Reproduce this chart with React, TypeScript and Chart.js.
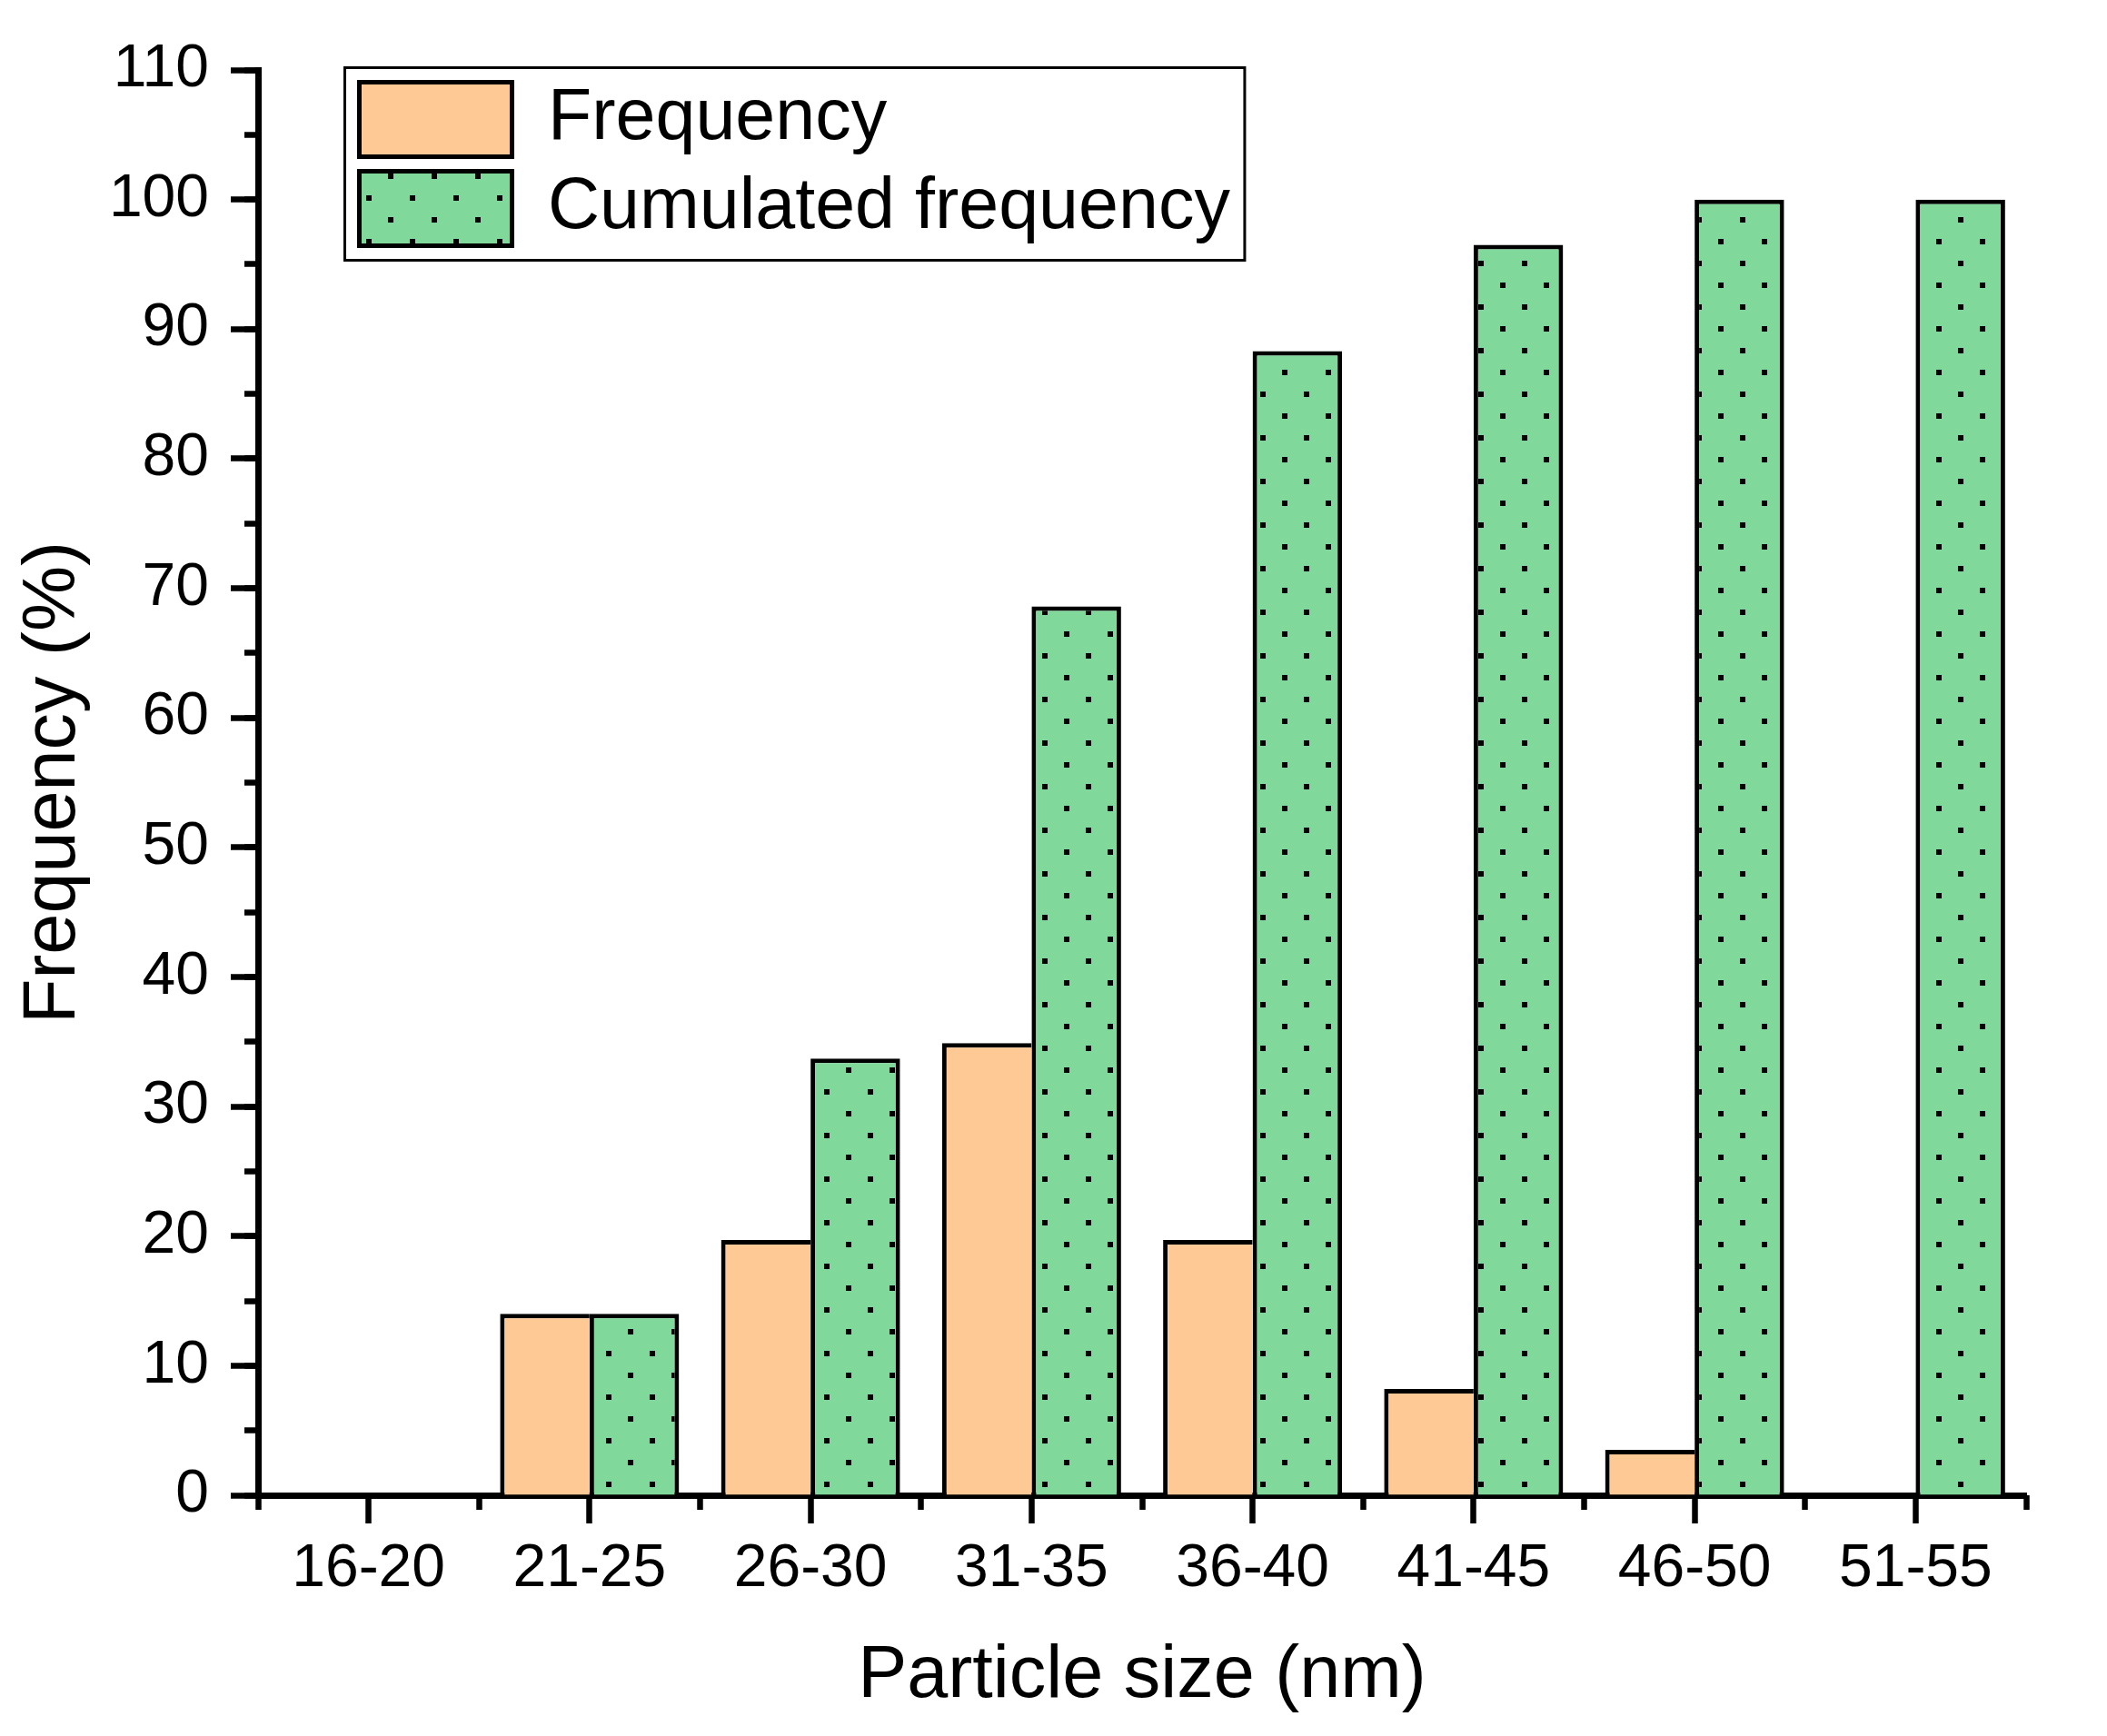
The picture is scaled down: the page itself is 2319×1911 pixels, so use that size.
import { useEffect, useRef } from 'react';
import { Chart, registerables } from 'chart.js';

Chart.register(...registerables);

const sizeBins = ['16-20', '21-25', '26-30', '31-35', '36-40', '41-45', '46-50', '51-55'];
const frequency = [0, 14, 19.7, 34.9, 19.7, 8.2, 3.5, 0];
const cumulatedFrequency = [0, 14, 33.7, 68.6, 88.3, 96.5, 100, 100];

const yMin = 0;
const yMax = 110;
const yMajorStep = 10;
const yMinorStep = 5;

const PEACH = '#FFC995';
const GREEN = '#80D99B';
const FONT = "'Liberation Sans', Arial, sans-serif";

Chart.defaults.font.family = FONT;
Chart.defaults.color = '#000';

// green fill with the small black dots, same tile for bars and legend
function dotPattern(): CanvasPattern | string {
  const tile = document.createElement('canvas');
  tile.width = 48;
  tile.height = 48;
  const t = tile.getContext('2d');
  if (!t) return GREEN;
  t.fillStyle = GREEN;
  t.fillRect(0, 0, 48, 48);
  t.fillStyle = '#000';
  t.fillRect(0, 0, 6, 6);
  t.fillRect(24, 24, 6, 6);
  const p = t.createPattern(tile, 'repeat');
  if (!p) return GREEN;
  p.setTransform(new DOMMatrix([1, 0, 0, 1, 19, 23]));
  return p;
}

// moves the legend into the top-left of the plot and draws its frame
const legendFrame = {
  id: 'legendFrame',
  afterLayout(chart: any) {
    const legend = chart.legend;
    if (!legend) return;
    legend.left = chart.chartArea.left + 95.5;
    legend.top = chart.chartArea.top - 2.5;
  },
  afterDraw(chart: any) {
    const legend = chart.legend;
    const boxes = legend?.legendHitBoxes;
    if (!legend || !boxes || !boxes.length) return;
    const pad = legend.options.labels.padding;
    const right = Math.max(...boxes.map((b: any) => b.left + b.width)) + pad;
    const bottom = Math.max(...boxes.map((b: any) => b.top + b.height)) + pad;
    const ctx = chart.ctx;
    ctx.save();
    ctx.lineWidth = 3;
    ctx.strokeStyle = '#000';
    ctx.strokeRect(legend.left, legend.top, right - legend.left, bottom - legend.top);
    ctx.restore();
  }
};

export default function App() {
  const canvas = useRef<HTMLCanvasElement | null>(null);
  const chartRef = useRef<Chart | null>(null);

  useEffect(() => {
    const node = canvas.current;
    if (!node) {
      return;
    }
    if (chartRef.current) {
      chartRef.current.destroy();
    }

    chartRef.current = new Chart(node, {
      type: 'bar',
      data: {
        labels: sizeBins,
        datasets: [
          {
            label: 'Frequency',
            data: frequency,
            backgroundColor: PEACH,
            borderColor: '#000',
            borderWidth: { top: 5, left: 5, right: 0, bottom: 0 },
            borderSkipped: 'start',
            categoryPercentage: 0.81,
            barPercentage: 1,
            xAxisID: 'x',
            yAxisID: 'y'
          },
          {
            label: 'Cumulated frequency',
            data: cumulatedFrequency,
            backgroundColor: dotPattern() as any,
            borderColor: '#000',
            borderWidth: { top: 5, left: 5, right: 5, bottom: 0 },
            borderSkipped: 'start',
            categoryPercentage: 0.81,
            barPercentage: 1,
            xAxisID: 'x',
            yAxisID: 'y'
          }
        ]
      },
      options: {
        animation: false,
        responsive: true,
        maintainAspectRatio: false,
        devicePixelRatio: 1,
        layout: {
          padding: { left: 0, top: 77, right: 89, bottom: 0 }
        },
        plugins: {
          tooltip: { enabled: false },
          legend: {
            display: true,
            position: 'chartArea',
            align: 'start',
            labels: {
              boxWidth: 168,
              boxHeight: 82,
              padding: 16,
              color: '#000',
              font: { size: 79 },
              generateLabels: (chart: any) =>
                Chart.defaults.plugins.legend.labels
                  .generateLabels(chart)
                  .map((item: any) => ({ ...item, lineWidth: 5 }))
            }
          }
        },
        scales: {
          x: {
            type: 'category',
            axis: 'x',
            position: 'bottom',
            weight: 1,
            offset: true,
            grid: {
              offset: false,
              drawOnChartArea: false,
              drawTicks: true,
              tickLength: 31,
              tickWidth: 6.5,
              tickColor: '#000'
            },
            border: { display: true, color: '#000', width: 7 },
            ticks: {
              color: '#000',
              font: { size: 66 },
              padding: 11,
              maxRotation: 0,
              autoSkip: false
            },
            title: {
              display: true,
              text: 'Particle size (nm)',
              color: '#000',
              font: { size: 81 },
              padding: { top: 0, bottom: 17 }
            },
            afterFit: (scale: any) => {
              scale.height = 265;
            }
          },
          xMinor: {
            type: 'category',
            axis: 'x',
            position: 'bottom',
            weight: 0,
            offset: true,
            grid: {
              offset: true,
              drawOnChartArea: false,
              drawTicks: true,
              tickLength: 16,
              tickWidth: 6.5,
              tickColor: '#000'
            },
            border: { display: false },
            ticks: { display: false },
            afterFit: (scale: any) => {
              scale.height = 0;
            }
          },
          y: {
            type: 'linear',
            axis: 'y',
            position: 'left',
            weight: 1,
            min: yMin,
            max: yMax,
            grid: {
              drawOnChartArea: false,
              drawTicks: true,
              tickLength: 30,
              tickWidth: 6.5,
              tickColor: '#000'
            },
            border: { display: true, color: '#000', width: 7 },
            ticks: {
              stepSize: yMajorStep,
              color: '#000',
              font: { size: 66 },
              padding: 24
            },
            title: {
              display: true,
              text: 'Frequency (%)',
              color: '#000',
              font: { size: 81 },
              padding: { top: 11, bottom: 0 }
            },
            afterFit: (scale: any) => {
              scale.width = 284;
            }
          },
          yMinor: {
            type: 'linear',
            axis: 'y',
            position: 'left',
            weight: 0,
            min: yMin,
            max: yMax,
            grid: {
              drawOnChartArea: false,
              drawTicks: true,
              tickLength: 15,
              tickWidth: 6.5,
              tickColor: '#000'
            },
            border: { display: false },
            ticks: { display: false, stepSize: yMinorStep },
            afterFit: (scale: any) => {
              scale.width = 0;
            }
          }
        }
      } as any,
      plugins: [legendFrame as any]
    });

    return () => {
      chartRef.current?.destroy();
      chartRef.current = null;
    };
  }, []);

  return (
    <div style={{ position: 'absolute', left: 0, top: 0, width: 2319, height: 1911, background: '#fff' }}>
      <canvas ref={canvas} aria-label="Particle size frequency and cumulated frequency" role="img" />
    </div>
  );
}
